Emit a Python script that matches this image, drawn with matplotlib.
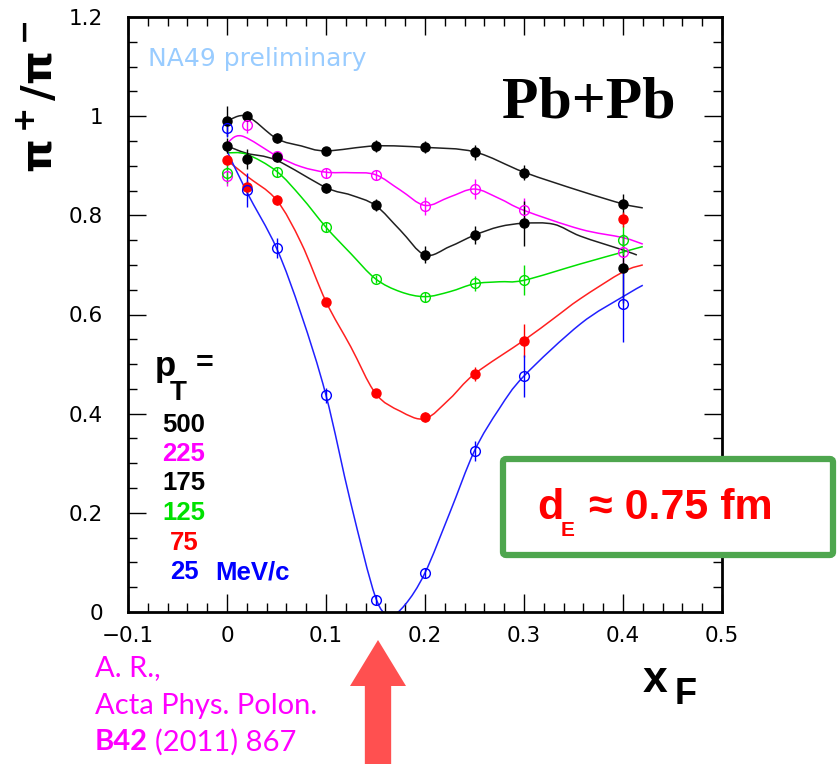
import numpy as np
import matplotlib
matplotlib.use("Agg")
import matplotlib.pyplot as plt
from matplotlib.path import Path
from matplotlib.patches import PathPatch, FancyBboxPatch, FancyArrow
from matplotlib.ticker import MultipleLocator

# ---------------- data ----------------
x_pts = [0.0, 0.02, 0.05, 0.10, 0.15, 0.20, 0.25, 0.30, 0.40]

pt_labels = ["500", "225", "175", "125", "75", "25"]
colors = ["black", "#ff00ff", "black", "#00e000", "#ff0000", "#0000ff"]
filled = [True, False, True, False, True, False]

y_500 = [0.990, 1.000, 0.956, 0.929, 0.940, 0.937, 0.927, 0.886, 0.823]
e_500 = [0.030, 0.010, 0.010, 0.008, 0.012, 0.012, 0.015, 0.015, 0.020]
y_225 = [0.879, 0.982, 0.920, 0.886, 0.882, 0.819, 0.853, 0.810, 0.726]
e_225 = [0.020, 0.015, 0.010, 0.010, 0.010, 0.018, 0.020, 0.025, 0.030]
y_175 = [0.940, 0.913, 0.918, 0.856, 0.821, 0.721, 0.761, 0.784, 0.693]
e_175 = [0.015, 0.020, 0.010, 0.010, 0.012, 0.018, 0.018, 0.045, 0.070]
y_125 = [0.886, None, 0.887, 0.776, 0.672, 0.636, 0.663, 0.669, 0.750]
e_125 = [0.020, None, 0.010, 0.010, 0.008, 0.010, 0.015, 0.030, 0.030]
y_75 = [0.911, 0.857, 0.831, 0.626, 0.441, 0.393, 0.480, 0.547, 0.792]
e_75 = [0.010, 0.015, 0.010, 0.008, 0.008, 0.010, 0.015, 0.033, 0.015]
y_25 = [0.977, 0.851, 0.734, 0.437, 0.024, 0.079, 0.325, 0.476, 0.622]
e_25 = [0.020, 0.035, 0.020, 0.015, 0.010, 0.010, 0.020, 0.043, 0.077]

# fitted curves (knots)
cx_500 = [0.0, 0.02, 0.05, 0.075, 0.10, 0.15, 0.20, 0.25, 0.30, 0.357, 0.40, 0.42]
cy_500 = [0.990, 1.000, 0.955, 0.940, 0.930, 0.940, 0.937, 0.928, 0.887, 0.849, 0.823, 0.815]
cx_225 = [0.0, 0.015, 0.05, 0.075, 0.10, 0.125, 0.15, 0.175, 0.20, 0.225, 0.25, 0.275, 0.30, 0.357, 0.40, 0.42]
cy_225 = [0.945, 0.960, 0.920, 0.898, 0.887, 0.886, 0.882, 0.851, 0.820, 0.837, 0.853, 0.834, 0.810, 0.772, 0.755, 0.742]
cx_175 = [0.0, 0.02, 0.05, 0.10, 0.125, 0.15, 0.175, 0.20, 0.225, 0.25, 0.275, 0.30, 0.33, 0.357, 0.40, 0.414]
cy_175 = [0.940, 0.925, 0.911, 0.856, 0.841, 0.820, 0.770, 0.720, 0.737, 0.760, 0.777, 0.784, 0.782, 0.758, 0.730, 0.720]
cx_125 = [0.0, 0.02, 0.05, 0.075, 0.10, 0.125, 0.15, 0.175, 0.20, 0.225, 0.25, 0.275, 0.30, 0.357, 0.40, 0.42]
cy_125 = [0.926, 0.923, 0.889, 0.837, 0.776, 0.723, 0.672, 0.646, 0.636, 0.646, 0.662, 0.666, 0.669, 0.702, 0.726, 0.737]
cx_75 = [0.0, 0.02, 0.05, 0.075, 0.10, 0.125, 0.15, 0.175, 0.20, 0.225, 0.25, 0.30, 0.33, 0.357, 0.40, 0.42]
cy_75 = [0.911, 0.879, 0.831, 0.744, 0.626, 0.535, 0.441, 0.405, 0.390, 0.430, 0.480, 0.548, 0.592, 0.632, 0.686, 0.700]
cx_25 = [0.0, 0.02, 0.05, 0.075, 0.10, 0.125, 0.15, 0.165, 0.18, 0.20, 0.225, 0.25, 0.275, 0.30, 0.357, 0.40, 0.42]
cy_25 = [0.930, 0.847, 0.734, 0.600, 0.437, 0.220, 0.030, -0.005, 0.015, 0.079, 0.200, 0.325, 0.410, 0.476, 0.581, 0.636, 0.659]

series_y = [y_500, y_225, y_175, y_125, y_75, y_25]
series_e = [e_500, e_225, e_175, e_125, e_75, e_25]
curves = [(cx_500, cy_500), (cx_225, cy_225), (cx_175, cy_175),
          (cx_125, cy_125), (cx_75, cy_75), (cx_25, cy_25)]
curve_colors = ["#202020", "#ff00ff", "#202020", "#00e000", "#ff2020", "#2020ff"]

xticks = [-0.1, 0, 0.1, 0.2, 0.3, 0.4, 0.5]
xticklabels = ["\u22120.1", "0", "0.1", "0.2", "0.3", "0.4", "0.5"]
yticks = [0, 0.2, 0.4, 0.6, 0.8, 1.0, 1.2]
yticklabels = ["0", "0.2", "0.4", "0.6", "0.8", "1", "1.2"]

W, H = 838, 764
fig = plt.figure(figsize=(W / 100, H / 100), dpi=100)
def fx(px): return px / W
def fy(py): return 1 - py / H

ax = fig.add_axes([fx(128), fy(612), (722 - 128) / W, (612 - 17) / H])
ax.set_xlim(-0.1, 0.5)
ax.set_ylim(0, 1.2)


def smooth(xs, ys):
    p = np.column_stack([xs, ys]).astype(float)
    verts = [p[0]]
    codes = [Path.MOVETO]
    n = len(p)
    for i in range(n - 1):
        p0 = p[i - 1] if i > 0 else p[i]
        p1, p2 = p[i], p[i + 1]
        p3 = p[i + 2] if i + 2 < n else p[i + 1]
        verts += [p1 + (p2 - p0) / 6, p2 - (p3 - p1) / 6, p2]
        codes += [Path.CURVE4] * 3
    return Path(verts, codes)

for (cx, cy), c in zip(curves, curve_colors):
    ax.add_patch(PathPatch(smooth(cx, cy), fill=False, edgecolor=c, lw=1.1, zorder=2))

for ys, es, c, f in zip(series_y, series_e, colors, filled):
    xs = [x for x, y in zip(x_pts, ys) if y is not None]
    yv = [y for y in ys if y is not None]
    ev = [e for e in es if e is not None]
    ax.errorbar(xs, yv, yerr=ev, fmt="none", ecolor=c, elinewidth=1.0, capsize=0, zorder=3)
    ax.plot(xs, yv, "o", ms=6.5 if f else 7, mfc=c if f else "none", mec=c,
            mew=1.0, zorder=4, linestyle="none")

# axes styling (ROOT-like)
for s in ax.spines.values():
    s.set_linewidth(2.0)
ax.set_xticks(xticks)
ax.set_xticklabels(xticklabels)
ax.set_yticks(yticks)
ax.set_yticklabels(yticklabels)
ax.xaxis.set_minor_locator(MultipleLocator(0.02))
ax.yaxis.set_minor_locator(MultipleLocator(0.05))
ax.tick_params(which="both", direction="in", top=True, right=True, width=1.0)
ax.tick_params(which="major", length=13)
ax.tick_params(which="minor", length=6.5)
ax.tick_params(axis="x", which="major", pad=10, labelsize=15.5)
ax.tick_params(axis="y", which="major", pad=18, labelsize=15.5)
for lab in ax.get_xticklabels() + ax.get_yticklabels():
    lab.set_family("DejaVu Sans")

# texts inside the plot
ax.text(-0.08, 1.115, "NA49 preliminary", color="#99ccff", fontsize=18,
        family="DejaVu Sans", va="center", ha="left")
fig.text(fx(589), fy(104), "Pb+Pb", family="Liberation Serif", weight="bold",
         fontsize=43, ha="center", va="center")

# pT legend
fig.text(fx(155), fy(376), "p", family="Liberation Sans", weight="bold", fontsize=25,
         ha="left", va="baseline")
fig.text(fx(170), fy(400), "T", family="Liberation Sans", weight="bold", fontsize=20,
         ha="left", va="baseline")
fig.text(fx(196), fy(372), "=", family="Liberation Sans", weight="bold", fontsize=22,
         ha="left", va="baseline")
leg_y = [425, 454, 483, 513, 543, 572]
leg_x = [162, 162, 162, 162, 170, 170]
for lab, c, ly, lx in zip(pt_labels, colors, leg_y, leg_x):
    fig.text(fx(lx), fy(ly), lab, color=c, family="Liberation Sans", weight="bold",
             fontsize=18.5, ha="left", va="center")
fig.text(fx(215), fy(572), "MeV/c", color="#0000ff", family="Liberation Sans",
         weight="bold", fontsize=18.5, ha="left", va="center")

# axis titles
fig.text(fx(40), fy(97), "\u03c0$^{\\bf +}$/\u03c0$^{\\bf -}$", rotation=90,
         fontsize=31, family="DejaVu Sans", weight="bold", ha="center", va="center")
fig.text(fx(655), fy(680), "x", family="Liberation Sans", weight="bold", fontsize=32,
         ha="center", va="center")
fig.text(fx(686), fy(695), "F", family="Liberation Sans", weight="bold", fontsize=26,
         ha="center", va="center")

# citation
cite_font = "Lato"
fig.text(fx(95), fy(668), "A. R.,", color="#ff00ff", family=cite_font, fontsize=21,
         ha="left", va="center")
fig.text(fx(95), fy(706), "Acta Phys. Polon.", color="#ff00ff", family=cite_font,
         fontsize=21, ha="left", va="center")
t = fig.text(fx(95), fy(742), "B42", color="#ff00ff", family=cite_font, weight="bold",
             fontsize=21, ha="left", va="center")
fig.canvas.draw()
bb = t.get_window_extent()
fig.text(bb.x1 / W + 7 / W, fy(742), "(2011) 867", color="#ff00ff", family=cite_font,
         fontsize=21, ha="left", va="center")

# green box with d_E
box = FancyBboxPatch((fx(503), fy(555)), (833 - 503) / W, (555 - 459) / H,
                     boxstyle="round,pad=0,rounding_size=0.004",
                     transform=fig.transFigure, facecolor="white",
                     edgecolor="#4ea64e", lw=4.5, zorder=10)
fig.add_artist(box)
fig.text(fx(537), fy(519), "d", color="#ff0000", family="Liberation Sans",
         weight="bold", fontsize=31, ha="left", va="baseline", zorder=11)
fig.text(fx(561), fy(536), "E", color="#ff0000", family="Liberation Sans",
         weight="bold", fontsize=15, ha="left", va="baseline", zorder=11)
fig.text(fx(589), fy(519), "\u2248 0.75 fm", color="#ff0000", family="Liberation Sans",
         weight="bold", fontsize=31, ha="left", va="baseline", zorder=11)

# red arrow
arrow = FancyArrow(fx(378), fy(764), 0, (764 - 640) / H, width=24 / H,
                   head_width=56 / W, head_length=(686 - 640) / H,
                   length_includes_head=True, transform=fig.transFigure,
                   color="#ff5050", lw=0, zorder=10)
fig.add_artist(arrow)

fig.savefig("out.png", dpi=100)
